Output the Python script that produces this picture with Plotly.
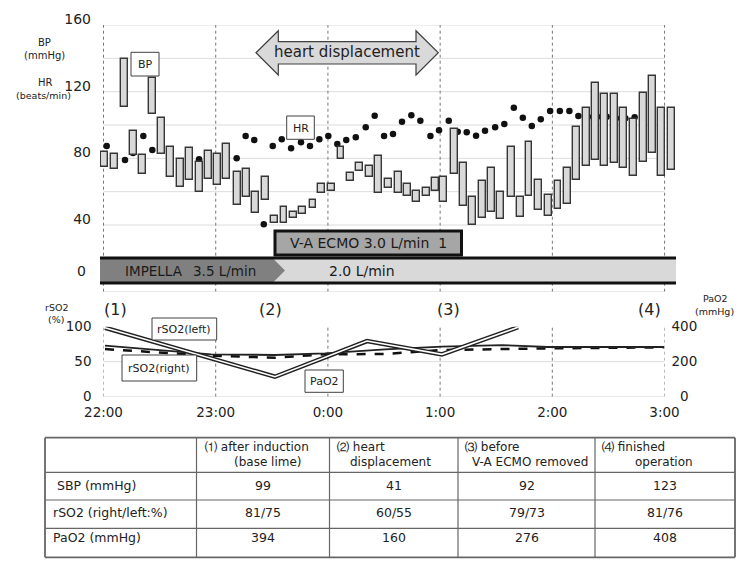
import plotly.graph_objects as go

# ---------------- data ----------------
# minutes after 22:00
bp_time = [0.5, 6, 11, 16, 21, 26, 31, 36, 41, 46,
           51.5, 56, 61, 66, 71.5, 76.5, 81.5, 86.5, 91.5, 96.5,
           101.5, 106.5, 112, 116.5, 122, 127, 132, 137, 142, 147,
           152.5, 157.5, 162.5, 167.5, 172.5, 177.5, 182, 187.5, 192.5, 197.5,
           202.5, 207.5, 212.5, 218, 223, 227.5, 232.5, 238, 243, 248,
           253, 258, 263, 268, 273, 278, 283.5, 288.5, 293.5, 298.5, 303.5]
bp_high = [84, 82.6, 139.4, 96.6, 82, 128.4, 104, 87, 79.4, 86.4,
           78, 84.4, 82.4, 88.4, 71.6, 73.6, 60, 69, 45.4, 51,
           48, 51, 54.8, 64.6, 64.4, 87, 71.4, 77, 75.4, 81.4,
           67.4, 72, 64.4, 60.6, 62.4, 68.4, 69, 97.6, 77, 56.6,
           66.4, 74.4, 60, 87, 56.6, 89.6, 67, 58, 66.4, 74.4,
           99, 110, 125.4, 118.4, 118.4, 110, 103.4, 119.4, 129.4, 110.4, 110.4]
bp_low = [75, 73.8, 110.6, 82, 70.4, 106.4, 82.4, 69, 62.6, 67,
          60, 67.6, 64, 67.6, 52, 56.6, 47, 55, 41.4, 41,
          44.4, 46.4, 50, 59, 60.4, 79.4, 66.4, 72.4, 68.8, 59,
          62.4, 59, 57.6, 54, 57.4, 60.4, 53.6, 70.6, 51.4, 40,
          44.4, 48, 43.4, 56.6, 45, 57.4, 49, 45.4, 49.4, 52.4,
          67, 75.4, 79, 75.4, 77, 74, 69.6, 78, 83, 69.4, 73]

hr_time = [1.7, 11.5, 15.8, 21.3, 26.1, 51.1, 71.2, 76, 80.6, 85.7,
           90.5, 95.3, 100.3, 105.6, 110.4, 115.4, 120.2, 125, 129.8, 134.9,
           140.2, 145, 150, 154.8, 159.6, 164.6, 169.4, 174.8, 179.4, 184.6,
           189.4, 194.2, 199.2, 204, 209.4, 214.3, 219.4, 224.2, 229, 233.8,
           238.8, 244, 249.1, 253.9, 259, 264, 269, 274, 279, 284]
hr_vals = [87.4, 79, 83.2, 93.4, 85, 79.4, 80, 93.4, 91, 40.4,
           87.4, 91.4, 86, 89.6, 87.4, 91.4, 93.4, 88.6, 91, 92.6,
           98.6, 105.6, 93.4, 94.6, 102, 105.8, 102.6, 93.4, 96.8, 102.6,
           96, 95.6, 93.6, 96.6, 98.6, 100.6, 110.4, 104.4, 99.4, 103.4,
           108.4, 108.4, 108.4, 105.4, 105, 105, 105, 104, 104, 104.6]

rso2_time = [0.8, 57.5, 91.7, 118.4, 150.5, 181, 213, 237.7, 299.7]
rso2_solid = [73, 60.6, 59.6, 62, 67.7, 71.4, 73.8, 71, 71]
rso2_dash_time = [0.8, 57.5, 91.7, 118.4, 150.5, 181, 237.7, 299.7]
rso2_dash = [68, 58.6, 55.7, 60.6, 61, 66.7, 69, 70.5]

pao2_time = [0.8, 91.7, 140.9, 181, 221.7]
pao2_vals = [394, 114, 318, 242, 397]

hour_ticks = [0, 60, 120, 180, 240, 300]
hour_labels = ["22:00", "23:00", "0:00", "1:00", "2:00", "3:00"]
bp_ticks = [40, 80, 120, 160]
grid_top = [0, 20, 40, 60, 80, 100, 120, 140, 160]

table_cols = ["", "⑴ after induction|(base lime)", "⑵ heart|displacement",
              "⑶ before|V-A ECMO removed", "⑷ finished|operation"]
table_rows = [" SBP (mmHg)", "rSO2 (right/left:%)", "PaO2 (mmHg)"]
table_sbp = ["99", "41", "92", "123"]
table_rso2 = ["81/75", "60/55", "79/73", "81/76"]
table_pao2 = ["394", "160", "276", "408"]

# ---------------- helpers ----------------
W, H = 750, 568
FONT = "DejaVu Sans"
DARK = "#222222"


def px(x):
    return x / W


def py(y):
    return 1 - y / H


annotations = []
shapes = []


def text(t, x, y, size=12, xanchor="center", color=DARK):
    annotations.append(dict(text=t, x=px(x), y=py(y), xref="paper", yref="paper",
                            showarrow=False, xanchor=xanchor, yanchor="middle",
                            font=dict(family=FONT, size=size, color=color)))


def rect(x0, y0, x1, y1, fill="white", line="#404040", lw=1.0, layer="above"):
    shapes.append(dict(type="rect", xref="paper", yref="paper",
                       x0=px(x0), x1=px(x1), y0=py(y1), y1=py(y0),
                       fillcolor=fill, line=dict(color=line, width=lw), layer=layer))


def hline(x0, x1, y, color="#555", lw=1.0):
    shapes.append(dict(type="line", xref="paper", yref="paper",
                       x0=px(x0), x1=px(x1), y0=py(y), y1=py(y),
                       line=dict(color=color, width=lw)))


def vline(x, y0, y1, color="#555", lw=1.0):
    shapes.append(dict(type="line", xref="paper", yref="paper",
                       x0=px(x), x1=px(x), y0=py(y0), y1=py(y1),
                       line=dict(color=color, width=lw)))


def poly(pts, fill, line="#404040", lw=1.2):
    d = "M " + " L ".join(f"{px(a):.5f},{py(b):.5f}" for a, b in pts) + " Z"
    shapes.append(dict(type="path", xref="paper", yref="paper", path=d,
                       fillcolor=fill, line=dict(color=line, width=lw), layer="above"))


fig = go.Figure()

# ---------------- top chart ----------------
fig.add_trace(go.Scatter(x=hr_time, y=hr_vals, mode="markers", xaxis="x", yaxis="y",
                         marker=dict(size=6.5, color="#111111"), showlegend=False,
                         name="HR"))
fig.add_trace(go.Bar(x=bp_time, y=[h - l for h, l in zip(bp_high, bp_low)], base=bp_low,
                     width=3.7, xaxis="x", yaxis="y3", showlegend=False, name="BP",
                     marker=dict(color="#d9d9d9", line=dict(color="#363636", width=1.4))))

for g in grid_top:
    shapes.append(dict(type="line", xref="x", yref="y", x0=0, x1=300, y0=g, y1=g,
                       line=dict(color="#dcdcdc", width=1), layer="below"))
for h in hour_ticks:
    shapes.append(dict(type="line", xref="x", yref="y", x0=h, x1=h, y0=0, y1=160,
                       line=dict(color="#777777", width=1, dash="dot"), layer="below"))

# device band
rect(100, 258, 676, 283, fill="#d9d9d9", line="rgba(0,0,0,0)", lw=0)
poly([(100, 258.5), (273, 258.5), (285, 270.5), (273, 282.5), (100, 282.5)],
     fill="#808080", line="rgba(0,0,0,0)", lw=0)
hline(100, 676, 258, color="#111", lw=3)
hline(100, 676, 283, color="#111", lw=3)
text("IMPELLA", 123, 270.5, size=13.5, xanchor="left", color="#1a1a1a")
text("3.5 L/min", 258, 270.5, size=13.5, xanchor="right", color="#1a1a1a")
text("2.0 L/min", 362, 270.5, size=14, color="#1a1a1a")

# V-A ECMO box
rect(275, 231, 461.5, 255, fill="#a6a6a6", line="#111", lw=3)
text("V-A ECMO 3.0 L/min  1", 368, 243, size=14, color="#1a1a1a")

# heart displacement arrow
poly([(256, 52.7), (278.3, 30.7), (278.3, 41.7), (416, 41.7), (416, 30.7), (438.3, 52.7),
      (416, 75), (416, 64), (278.3, 64), (278.3, 75)], fill="#d9d9d9")
text("heart displacement", 347, 52, size=15)

# BP / HR labels
rect(131, 52.3, 159, 76)
text("BP", 145, 64.5, size=11)
rect(286.7, 116, 314.3, 139.3)
text("HR", 300.5, 128, size=11)

# axis titles / zero label
text("BP", 44, 43, size=10)
text("(mmHg)", 44, 56, size=10)
text("HR", 45, 82, size=10)
text("(beats/min)", 43, 95.5, size=9.5)
text("0", 81, 271, size=14)

# ---------------- bottom chart ----------------
fig.add_trace(go.Scatter(x=rso2_dash_time, y=rso2_dash, mode="lines", xaxis="x2", yaxis="y2",
                         line=dict(color="#111", width=2.5, dash="dash"), showlegend=False,
                         name="rSO2(right)"))
fig.add_trace(go.Scatter(x=rso2_time, y=rso2_solid, mode="lines", xaxis="x2", yaxis="y2",
                         line=dict(color="#222", width=1.8), showlegend=False,
                         name="rSO2(left)"))
fig.add_trace(go.Scatter(x=pao2_time, y=pao2_vals, mode="lines", xaxis="x2", yaxis="y4",
                         line=dict(color="#222", width=4.5), showlegend=False, name="PaO2"))
fig.add_trace(go.Scatter(x=pao2_time, y=pao2_vals, mode="lines", xaxis="x2", yaxis="y4",
                         line=dict(color="white", width=1.6), showlegend=False,
                         hoverinfo="skip"))

for g in [0, 50]:
    shapes.append(dict(type="line", xref="x2", yref="y2", x0=0, x1=300, y0=g, y1=g,
                       line=dict(color="#dcdcdc", width=1), layer="below"))
for h in hour_ticks:
    shapes.append(dict(type="line", xref="x2", yref="y2", x0=h, x1=h, y0=0, y1=100,
                       line=dict(color="#777777", width=1, dash="dot"), layer="below"))

rect(152, 318, 216.7, 340)
text("rSO2(left)", 184.3, 329, size=11)
rect(122, 355, 196.7, 381)
text("rSO2(right)", 159.3, 368, size=11)
rect(305, 370, 343.3, 392.3)
text("PaO2", 324.2, 381.2, size=11)

text("rSO2", 56, 307, size=9.5)
text("(%)", 56, 319, size=9.5)
text("PaO2", 715, 298.5, size=9.5)
text("(mmHg)", 714, 311, size=9.5)

for lab, xc in [("(1)", 115.5), ("(2)", 270), ("(3)", 448.5), ("(4)", 649.5)]:
    text(lab, xc, 309, size=16)

# ---------------- table ----------------
col_x = [45, 196.5, 329.5, 458, 595, 735]
row_y = [437.7, 472.3, 500, 528.3, 557.3]
for i, x in enumerate(col_x):
    vline(x, row_y[0], row_y[-1], color="#666", lw=1.8 if i in (0, len(col_x) - 1) else 1.2)
for j, y in enumerate(row_y):
    hline(col_x[0], col_x[-1], y, color="#666", lw=1.8 if j in (0, len(row_y) - 1) else 1.2)

head_first_x = [202.5, 335, 463, 600]
head_second_x = [231.7, 347.5, 470, 632.7]
for k, h in enumerate(table_cols[1:]):
    l1, l2 = h.split("|")
    text(l1, head_first_x[k], 447, size=12, xanchor="left")
    text(l2, head_second_x[k], 462, size=12, xanchor="left")

row_text_y = [485, 512, 537]
for r, lab in enumerate(table_rows):
    text(lab, 50.5, row_text_y[r], size=12.5, xanchor="left")
for r, vals in enumerate([table_sbp, table_rso2, table_pao2]):
    for c, v in enumerate(vals):
        xc = (col_x[c + 1] + col_x[c + 2]) / 2
        text(v, xc, row_text_y[r], size=12.5)

# ---------------- layout ----------------
tick_font = dict(family=FONT, size=14, color=DARK)
fig.update_layout(
    width=W, height=H, margin=dict(l=0, r=0, t=0, b=0, autoexpand=False),
    paper_bgcolor="white", plot_bgcolor="white", showlegend=False,
    bargap=0,
    xaxis=dict(domain=[px(100), px(676)], range=[-1.87, 306.1], anchor="y",
               visible=False, showgrid=False, zeroline=False, automargin=False),
    yaxis=dict(domain=[py(291.7), py(25)], range=[0, 160], anchor="x",
               tickvals=bp_ticks, showgrid=False, zeroline=False, showline=False,
               tickfont=tick_font, ticklabelstandoff=8, ticklabelshift=-6, automargin=False),
    yaxis3=dict(overlaying="y", range=[0, 160], anchor="x", visible=False,
                showgrid=False, zeroline=False, automargin=False),
    xaxis2=dict(domain=[px(103.5), px(664.5)], range=[0, 300], anchor="y2",
                tickvals=hour_ticks, ticktext=hour_labels, showgrid=False,
                zeroline=False, showline=False, automargin=False,
                tickfont=dict(family=FONT, size=13.5, color=DARK), ticklabelstandoff=6),
    yaxis2=dict(domain=[py(396.7), py(326.7)], range=[0, 100], anchor="x2",
                tickvals=[0, 50, 100], showgrid=False, zeroline=False, showline=False,
                automargin=False,
                tickfont=dict(family=FONT, size=13.5, color=DARK), ticklabelstandoff=11),
    yaxis4=dict(overlaying="y2", side="right", range=[0, 400], anchor="x2",
                tickvals=[0, 200, 400], ticktext=["\u20070", "200", "400"],
                showgrid=False, zeroline=False, showline=False, automargin=False,
                tickfont=dict(family=FONT, size=13.5, color=DARK), ticklabelstandoff=6),
    shapes=shapes, annotations=annotations,
)

fig.write_html("out.html")
